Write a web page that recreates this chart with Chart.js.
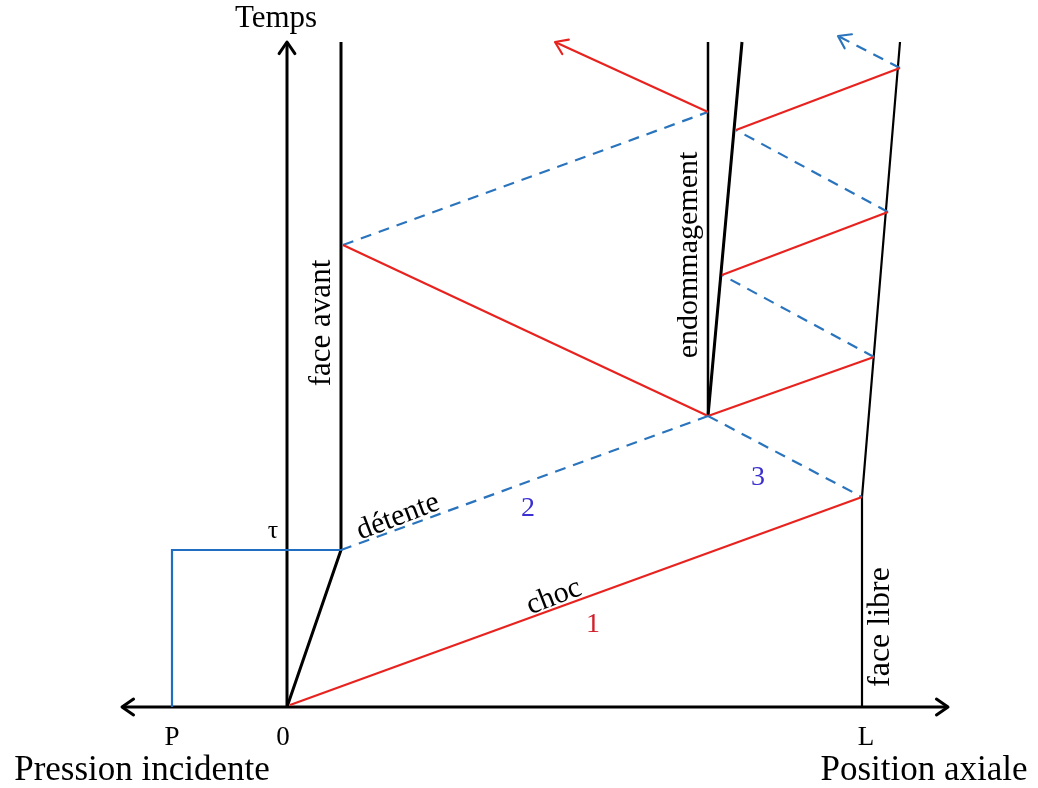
<!DOCTYPE html>
<html>
<head>
<meta charset="utf-8">
<script src="https://cdn.jsdelivr.net/npm/chart.js@4/dist/chart.umd.min.js"></script>
<style>
html,body{margin:0;padding:0;background:#fff;}
#wrap{width:1038px;height:788px;}
</style>
</head>
<body>
<div id="wrap"><canvas id="c" width="1038" height="788"></canvas></div>
<script>
// Position (x) and time (t) in diagram units; origin at the impacted face at t = 0.
const timeAxis       = [[0, 0], [0, 665]];
const positionAxis   = [[-165, 0], [661, 0]];
const frontFace      = [[0, 0], [54, 157], [54, 665]];
const freeFace       = [[575, 0], [575, 210], [613, 665]];
const spallLeft      = [[421, 291], [421, 665]];
const spallRight     = [[421, 291], [455, 665]];
const incidentPulse  = [[-115, 0], [-115, 157], [54, 157]];
const shockWave1     = [[3, 2], [575, 210]];
const releaseWave2   = [[54, 157], [421, 291]];
const releaseWave3   = [[421, 291], [575, 210]];
const redReflections = [
  [[56, 462], [421, 291]],
  [[421, 291], [587, 350]],
  [[435, 432], [601, 495]],
  [[449, 577], [613, 639]]
];
const redOutgoing    = [[421, 595], [268, 665]];
const blueReflections = [
  [[56, 462], [421, 595]],
  [[587, 350], [435, 432]],
  [[601, 495], [449, 577]]
];
const blueOutgoing   = [[613, 639], [551, 671]];

const textLabels = [
  {t: 'Temps', x: -11, y: 688, size: 31, color: '#000', rot: 0},
  {t: 'τ', x: -14, y: 176, size: 26, color: '#000', rot: 0},
  {t: 'P', x: -115, y: -31, size: 27, color: '#000', rot: 0},
  {t: '0', x: -4, y: -31, size: 27, color: '#000', rot: 0},
  {t: 'L', x: 579, y: -31, size: 27, color: '#000', rot: 0},
  {t: 'Pression incidente', x: -145, y: -64, size: 35, color: '#000', rot: 0},
  {t: 'Position axiale', x: 637, y: -64, size: 35, color: '#000', rot: 0},
  {t: 'face avant', x: 35, y: 384, size: 31, color: '#000', rot: -90},
  {t: 'endommagement', x: 402, y: 452, size: 30, color: '#000', rot: -90},
  {t: 'face libre', x: 594, y: 80, size: 32, color: '#000', rot: -90},
  {t: 'détente', x: 111, y: 190, size: 30, color: '#000', rot: -21},
  {t: 'choc', x: 267, y: 110, size: 30, color: '#000', rot: -21},
  {t: '1', x: 306, y: 82, size: 28, color: '#d0202c', rot: 0},
  {t: '2', x: 241, y: 198, size: 28, color: '#3a2fd0', rot: 0},
  {t: '3', x: 471, y: 229, size: 28, color: '#3a2fd0', rot: 0}
];

const RED = '#e8231f';
const BLUE = '#2a74bd';
const BLACK = '#000';

function pts(a){ return a.map(p => ({x: p[0], y: p[1]})); }
function ds(a, color, width, opts){
  return Object.assign({data: pts(a), borderColor: color, borderWidth: width,
    showLine: true, pointRadius: 0, fill: false, tension: 0, clip: false}, opts || {});
}

const datasets = [
  ds(incidentPulse, '#1f6ec2', 2.2),
  ds(shockWave1, RED, 2.2),
  ds(releaseWave2, BLUE, 2.2, {borderDash: [11, 8]}),
  ds(releaseWave3, BLUE, 2.2, {borderDash: [11, 8]}),
  ...redReflections.map(s => ds(s, RED, 2.2)),
  ds(redOutgoing, RED, 2.2, {arrowEnd: true}),
  ...blueReflections.map(s => ds(s, BLUE, 2.2, {borderDash: [11, 8]})),
  ds(blueOutgoing, BLUE, 2.2, {borderDash: [11, 8], arrowEnd: true}),
  ds(timeAxis, BLACK, 3, {arrowEnd: true}),
  ds(positionAxis, BLACK, 3, {arrowEnd: true, arrowStart: true}),
  ds(frontFace, BLACK, 3),
  ds(freeFace, BLACK, 2.2),
  ds(spallLeft, BLACK, 2.5),
  ds(spallRight, BLACK, 3)
];

function chevron(ctx, tip, from, color, w){
  const ang = Math.atan2(tip.y - from.y, tip.x - from.x);
  const L = 14, spread = 0.6;
  ctx.save();
  ctx.setLineDash([]);
  ctx.strokeStyle = color; ctx.lineWidth = w; ctx.lineCap = 'round'; ctx.lineJoin = 'round';
  ctx.beginPath();
  ctx.moveTo(tip.x - L*Math.cos(ang - spread), tip.y - L*Math.sin(ang - spread));
  ctx.lineTo(tip.x, tip.y);
  ctx.lineTo(tip.x - L*Math.cos(ang + spread), tip.y - L*Math.sin(ang + spread));
  ctx.stroke();
  ctx.restore();
}

const decor = {
  id: 'decor',
  afterDatasetsDraw(chart){
    const ctx = chart.ctx, xs = chart.scales.x, ys = chart.scales.y;
    const P = p => ({x: xs.getPixelForValue(p.x), y: ys.getPixelForValue(p.y)});
    chart.data.datasets.forEach(d => {
      const n = d.data.length;
      if (d.arrowEnd) chevron(ctx, P(d.data[n-1]), P(d.data[n-2]), d.borderColor, d.borderWidth);
      if (d.arrowStart) chevron(ctx, P(d.data[0]), P(d.data[1]), d.borderColor, d.borderWidth);
    });
    textLabels.forEach(l => {
      const p = P(l);
      ctx.save();
      ctx.translate(p.x, p.y);
      ctx.rotate(l.rot * Math.PI / 180);
      ctx.font = l.size + 'px "Liberation Serif", "DejaVu Serif", serif';
      ctx.fillStyle = l.color;
      ctx.textAlign = 'center';
      ctx.textBaseline = 'middle';
      ctx.fillText(l.t, 0, 0);
      ctx.restore();
    });
  }
};

new Chart(document.getElementById('c'), {
  type: 'scatter',
  data: {datasets},
  options: {
    responsive: false,
    animation: false,
    layout: {padding: 0},
    plugins: {legend: {display: false}, tooltip: {enabled: false}},
    scales: {
      x: {type: 'linear', min: -287, max: 751, display: false},
      y: {type: 'linear', min: -81, max: 707, display: false}
    }
  },
  plugins: [decor]
});
</script>
</body>
</html>
